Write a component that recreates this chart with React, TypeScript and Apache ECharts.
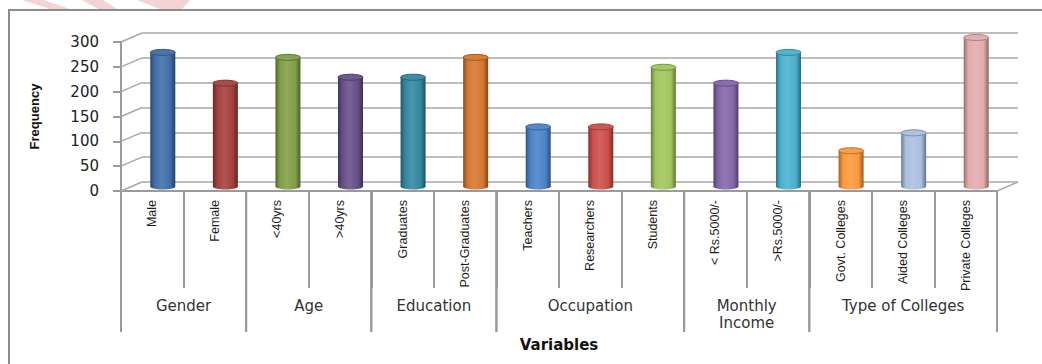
import React, { useEffect, useRef } from "react";
import * as echarts from "echarts";

// ---- data ----
const CATEGORIES = [
  "Male", "Female", "<40yrs", ">40yrs", "Graduates", "Post-Graduates",
  "Teachers", "Researchers", "Students", "< Rs.5000/-", ">Rs.5000/-",
  "Govt. Colleges", "Aided Colleges", "Private Colleges",
];
const FREQUENCY = [270, 208, 260, 220, 220, 260, 120, 120, 240, 208, 270, 72, 108, 300];
const GROUP_NAMES = ["Gender", "Age", "Education", "Occupation", "Monthly\nIncome", "Type of Colleges"];
const GROUP_START = [0, 2, 4, 6, 9, 11];
const GROUP_END = [1, 3, 5, 8, 10, 13];
const Y_TICKS = [0, 50, 100, 150, 200, 250, 300];
const BAR_COLORS = [
  "#3F6EA8", "#A3403D", "#809E46", "#674F87", "#32879F", "#D5772F",
  "#4A82C8", "#CB4E4B", "#A2C55E", "#8366A9", "#4AB0CE", "#FA983D",
  "#A9BFDE", "#E2ABAB",
];

// ---- layout ----
const FRONT = { left: 121, top: 42, width: 876, height: 149 };
const DX = 21;
const DY = -9;
const NARROW = "'Liberation Sans', Arial, sans-serif";
const WIDE = "'DejaVu Sans', Verdana, sans-serif";
const LINE = "#9a9a9a";

function shade(hex: string, f: number): string {
  const n = parseInt(hex.slice(1), 16);
  let r = (n >> 16) & 255, g = (n >> 8) & 255, b = n & 255;
  if (f < 0) {
    r = Math.round(r * (1 + f)); g = Math.round(g * (1 + f)); b = Math.round(b * (1 + f));
  } else {
    r = Math.round(r + (255 - r) * f); g = Math.round(g + (255 - g) * f); b = Math.round(b + (255 - b) * f);
  }
  return "rgb(" + r + "," + g + "," + b + ")";
}

function cylGradient(c: string) {
  return new echarts.graphic.LinearGradient(0, 0, 1, 0, [
    { offset: 0, color: shade(c, -0.35) },
    { offset: 0.18, color: c },
    { offset: 0.45, color: shade(c, 0.12) },
    { offset: 0.8, color: c },
    { offset: 1, color: shade(c, -0.4) },
  ]);
}

export default function App() {
  const ref = useRef<HTMLDivElement>(null);
  useEffect(() => {
    if (!ref.current) return;
    const chart = echarts.init(ref.current, null, { renderer: "svg" });
    const grid = (dx: number, dy: number) => ({
      left: FRONT.left + dx,
      top: FRONT.top + dy,
      width: FRONT.width,
      height: FRONT.height,
      containLabel: false,
    });
    const hiddenY = (idx: number) => ({
      type: "value", gridIndex: idx, min: 0, max: 300, interval: 50,
      axisLabel: { show: false }, axisLine: { show: false }, axisTick: { show: false },
      splitLine: { show: idx === 0, lineStyle: { color: "#a8a8a8", width: 1.5 } },
    });
    const hiddenX = (idx: number) => ({
      type: "category", gridIndex: idx, data: CATEGORIES, show: false,
    });

    chart.setOption({
      animation: false,
      backgroundColor: "#ffffff",
      grid: [grid(DX, DY), grid(DX / 2, DY / 2), grid(0, 0)],
      xAxis: [
        hiddenX(0),
        hiddenX(1),
        {
          type: "category", gridIndex: 2, data: CATEGORIES,
          axisLine: { show: true, lineStyle: { color: LINE, width: 2 } },
          axisTick: { show: true, interval: 0, length: 97, lineStyle: { color: LINE, width: 2 } },
          axisLabel: {
            interval: 0, rotate: 90, margin: 9, fontSize: 12.5, fontFamily: NARROW, color: "#1e1e1e",
          },
          name: "Variables", nameLocation: "middle", nameGap: 146,
          nameTextStyle: { fontFamily: WIDE, fontWeight: "bold", fontSize: 15, color: "#111" },
        },
      ],
      yAxis: [
        hiddenY(0),
        hiddenY(1),
        {
          type: "value", gridIndex: 2, min: 0, max: 300, interval: 50,
          axisLine: { show: true, lineStyle: { color: LINE, width: 2 } },
          axisTick: { show: true, length: 8, lineStyle: { color: LINE, width: 2 } },
          axisLabel: { margin: 22, fontSize: 15, fontFamily: WIDE, color: "#222" },
          splitLine: { show: false },
          name: "Frequency", nameLocation: "middle", nameGap: 80,
          nameTextStyle: { fontFamily: NARROW, fontWeight: "bold", fontSize: 13, color: "#111" },
        },
      ],
      graphic: [
        {
          type: "polygon", silent: true,
          shape: { points: [[22, 0], [43, 0], [70, 9], [50, 9]] },
          style: { fill: "#f4d3d5" },
        },
        {
          type: "polygon", silent: true,
          shape: { points: [[82, 0], [103, 0], [117, 9], [98, 9]] },
          style: { fill: "#f4d3d5" },
        },
        {
          type: "polygon", silent: true,
          shape: { points: [[137, 0], [190, 0], [182, 9], [160, 9]] },
          style: { fill: "#f4d3d5" },
        },
        {
          type: "rect", silent: true,
          shape: { x: 9, y: 10, width: 1100, height: 420 },
          style: { fill: "none", stroke: "#8c8c8c", lineWidth: 2 },
        },
      ],
      series: [
        {
          // side-wall diagonals from the front axis to the back wall
          type: "custom", xAxisIndex: 2, yAxisIndex: 2, silent: true, clip: false, z: 1,
          data: Y_TICKS.map((v) => [0, v]),
          renderItem: (params: any, api: any) => {
            const p = api.coord([0, api.value(1)]);
            const bw = api.size([1, 0])[0];
            const x0 = p[0] - bw / 2;
            const children: any[] = [
              {
                type: "line",
                shape: { x1: x0, y1: p[1], x2: x0 + DX, y2: p[1] + DY },
                style: { stroke: "#a8a8a8", lineWidth: 1.5 },
              },
            ];
            if (api.value(1) === 0) {
              const q = api.coord([CATEGORIES.length - 1, 0]);
              const x1 = q[0] + bw / 2;
              children.push({
                type: "line",
                shape: { x1: x1, y1: q[1], x2: x1 + DX, y2: q[1] + DY },
                style: { stroke: "#a8a8a8", lineWidth: 1.5 },
              });
            }
            return { type: "group", children };
          },
        },
        {
          type: "bar", name: "Frequency", xAxisIndex: 1, yAxisIndex: 1, barWidth: 25, z: 3,
          data: FREQUENCY.map((v, i) => ({ value: v, itemStyle: { color: cylGradient(BAR_COLORS[i]) } })),
        },
        {
          // cylinder caps
          type: "custom", xAxisIndex: 1, yAxisIndex: 1, silent: true, clip: false, z: 4,
          data: FREQUENCY.map((v, i) => [i, v]),
          renderItem: (params: any, api: any) => {
            const i = api.value(0);
            const top = api.coord([i, api.value(1)]);
            const bot = api.coord([i, 0]);
            const c = BAR_COLORS[params.dataIndex];
            return {
              type: "group",
              children: [
                {
                  type: "ellipse",
                  shape: { cx: bot[0], cy: bot[1], rx: 12.5, ry: 3 },
                  style: { fill: cylGradient(c) },
                },
                {
                  type: "ellipse",
                  shape: { cx: top[0], cy: top[1], rx: 12.5, ry: 3 },
                  style: { fill: shade(c, 0.05), stroke: shade(c, -0.25), lineWidth: 1 },
                },
              ],
            };
          },
        },
        {
          // group separators and labels
          type: "custom", xAxisIndex: 2, yAxisIndex: 2, silent: true, clip: false, z: 2,
          data: GROUP_START.map((s, i) => [s, GROUP_END[i]]),
          renderItem: (params: any, api: any) => {
            const s = api.coord([api.value(0), 0]);
            const e = api.coord([api.value(1), 0]);
            const bw = api.size([1, 0])[0];
            const xl = s[0] - bw / 2;
            const xr = e[0] + bw / 2;
            const y0 = s[1];
            return {
              type: "group",
              children: [
                {
                  type: "line", shape: { x1: xl, y1: y0, x2: xl, y2: y0 + 141 },
                  style: { stroke: LINE, lineWidth: 2 },
                },
                {
                  type: "line", shape: { x1: xr, y1: y0, x2: xr, y2: y0 + 141 },
                  style: { stroke: LINE, lineWidth: 2 },
                },
                {
                  type: "text",
                  style: {
                    text: GROUP_NAMES[params.dataIndex],
                    x: (xl + xr) / 2, y: y0 + 106,
                    align: "center", verticalAlign: "top",
                    fontSize: 15, fontFamily: WIDE, fill: "#333", lineHeight: 17,
                  },
                },
              ],
            };
          },
        },
      ],
    });
    return () => chart.dispose();
  }, []);
  return (
    <div
      ref={ref}
      style={{ position: "fixed", left: 0, top: 0, width: 1042, height: 364, background: "#fff" }}
    />
  );
}
